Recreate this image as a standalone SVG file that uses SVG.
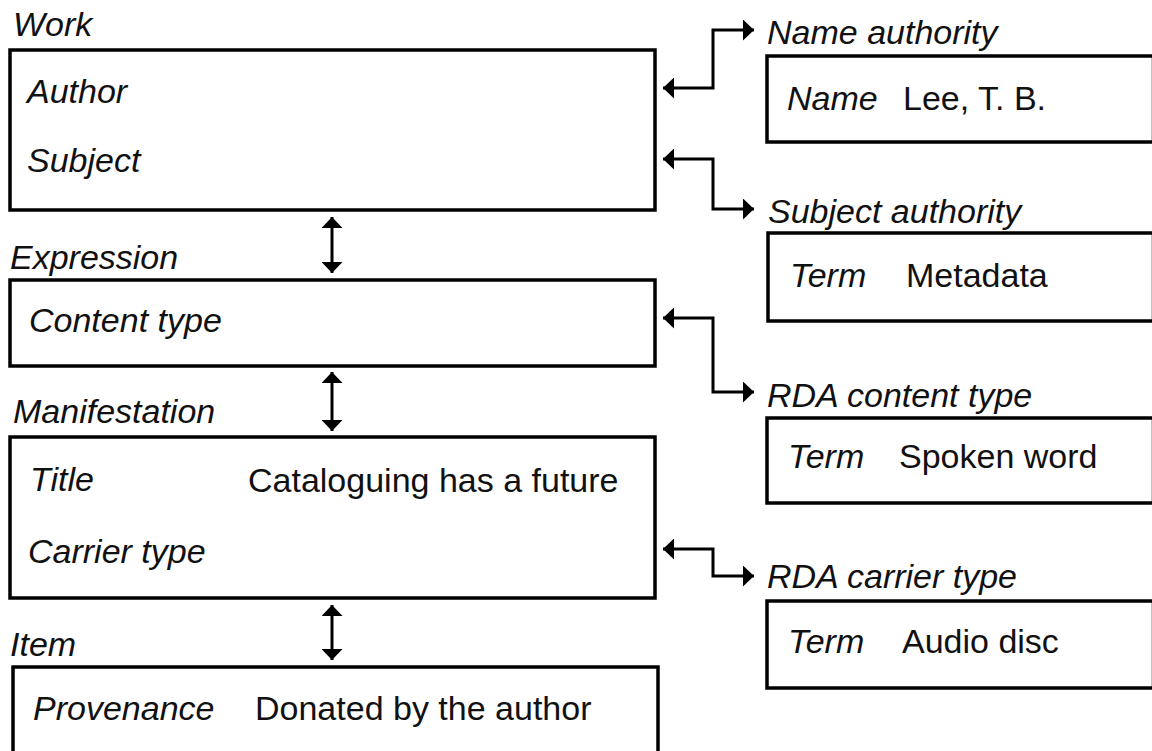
<svg xmlns="http://www.w3.org/2000/svg" width="1152" height="751" viewBox="0 0 1152 751">
<style>
  .box{fill:#fff;stroke:#000;stroke-width:3.5}
  .t{font-family:"Liberation Sans",Arial,sans-serif;font-size:34px;fill:#111}
  .i{font-style:italic}
  .c{fill:none;stroke:#000;stroke-width:3}
</style>
<defs>
  <marker id="ah" markerUnits="userSpaceOnUse" viewBox="0 0 11 21" refX="11" refY="10.5" markerWidth="11" markerHeight="21" orient="auto-start-reverse">
    <path d="M0,0 L11,10.5 L0,21 Z" fill="#000"/>
  </marker>
</defs>
<rect width="1152" height="751" fill="#fff"/>

<g id="work">
  <text class="t i" x="13" y="36">Work</text>
  <rect class="box" x="10" y="50" width="645" height="160"/>
  <text class="t i" x="27" y="103">Author</text>
  <text class="t i" x="27" y="172">Subject</text>
</g>
<g id="expression">
  <text class="t i" x="10" y="269">Expression</text>
  <rect class="box" x="10" y="280" width="645" height="86"/>
  <text class="t i" x="29" y="332">Content type</text>
</g>
<g id="manifestation">
  <text class="t i" x="13" y="423">Manifestation</text>
  <rect class="box" x="10" y="437" width="645" height="161"/>
  <text class="t i" x="30" y="491">Title</text>
  <text class="t" x="248" y="492">Cataloguing has a future</text>
  <text class="t i" x="28" y="563">Carrier type</text>
</g>
<g id="item">
  <text class="t i" x="10" y="656">Item</text>
  <rect class="box" x="13" y="667" width="645" height="120"/>
  <text class="t i" x="33" y="720">Provenance</text>
  <text class="t" x="255" y="720">Donated by the author</text>
</g>
<g id="name-authority">
  <text class="t i" x="767" y="44">Name authority</text>
  <rect class="box" x="767" y="56" width="386.5" height="86"/>
  <text class="t i" x="787" y="110">Name</text>
  <text class="t" x="903" y="110">Lee, T. B.</text>
</g>
<g id="subject-authority">
  <text class="t i" x="768" y="223">Subject authority</text>
  <rect class="box" x="768" y="233" width="385.5" height="88"/>
  <text class="t i" x="790" y="287">Term</text>
  <text class="t" x="906" y="287">Metadata</text>
</g>
<g id="rda-content-type">
  <text class="t i" x="767" y="407">RDA content type</text>
  <rect class="box" x="767" y="418" width="386.5" height="85"/>
  <text class="t i" x="788" y="468">Term</text>
  <text class="t" x="899" y="468">Spoken word</text>
</g>
<g id="rda-carrier-type">
  <text class="t i" x="767" y="588">RDA carrier type</text>
  <rect class="box" x="767" y="601" width="386.5" height="87"/>
  <text class="t i" x="788" y="653">Term</text>
  <text class="t" x="902" y="653">Audio disc</text>
</g>

<g id="connectors">
  <line class="c" x1="332" y1="217" x2="332" y2="273" marker-start="url(#ah)" marker-end="url(#ah)"/>
  <line class="c" x1="332" y1="372" x2="332" y2="431" marker-start="url(#ah)" marker-end="url(#ah)"/>
  <line class="c" x1="332" y1="605" x2="332" y2="660" marker-start="url(#ah)" marker-end="url(#ah)"/>
  <polyline class="c" points="663,88 713,88 713,30 754,30" marker-start="url(#ah)" marker-end="url(#ah)"/>
  <polyline class="c" points="663,159 713,159 713,209 754,209" marker-start="url(#ah)" marker-end="url(#ah)"/>
  <polyline class="c" points="663,318 713,318 713,392 754,392" marker-start="url(#ah)" marker-end="url(#ah)"/>
  <polyline class="c" points="663,549 713,549 713,576 754,576" marker-start="url(#ah)" marker-end="url(#ah)"/>
</g>
</svg>
